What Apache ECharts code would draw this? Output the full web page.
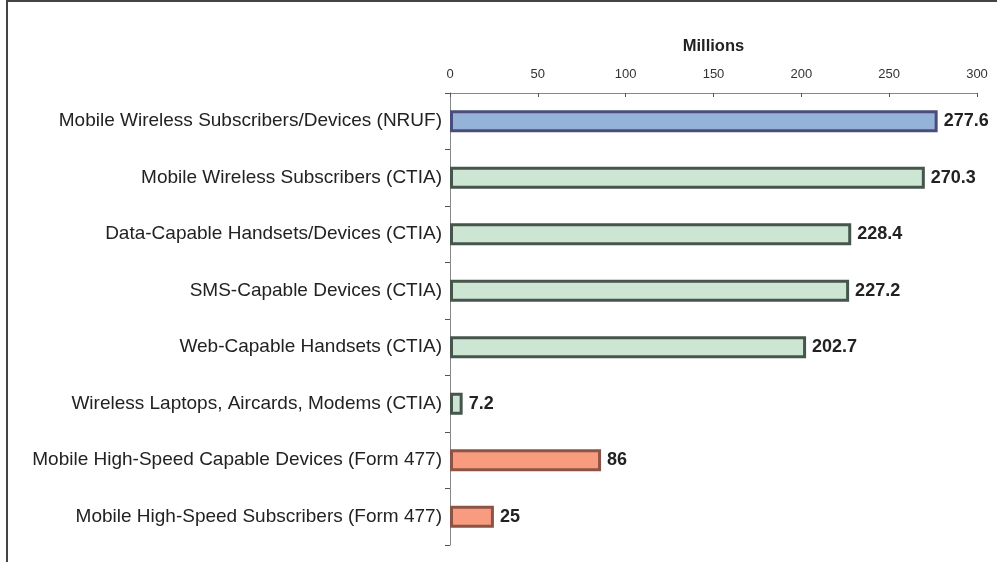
<!DOCTYPE html>
<html>
<head>
<meta charset="utf-8">
<script src="https://cdn.jsdelivr.net/npm/echarts@6/dist/echarts.min.js"></script>
<style>
html,body{margin:0;padding:0;background:#fff;}
#chart{width:997px;height:562px;}
</style>
</head>
<body>
<div id="chart"></div>
<script>
const categories = [
  "Mobile Wireless Subscribers/Devices (NRUF)",
  "Mobile Wireless Subscribers (CTIA)",
  "Data-Capable Handsets/Devices (CTIA)",
  "SMS-Capable Devices (CTIA)",
  "Web-Capable Handsets (CTIA)",
  "Wireless Laptops, Aircards, Modems (CTIA)",
  "Mobile High-Speed Capable Devices (Form 477)",
  "Mobile High-Speed Subscribers (Form 477)"
];
const values = [277.6, 270.3, 228.4, 227.2, 202.7, 7.2, 86, 25];
const sources = ["NRUF", "CTIA", "CTIA", "CTIA", "CTIA", "CTIA", "Form 477", "Form 477"];
const xTicks = [0, 50, 100, 150, 200, 250, 300];

const styleBySource = {
  "NRUF": {color: "#95B3D7", borderColor: "#4B4C7E"},
  "CTIA": {color: "#CDE6D4", borderColor: "#46564C"},
  "Form 477": {color: "#F99B7E", borderColor: "#8C5447"}
};

const chart = echarts.init(document.getElementById('chart'));
chart.setOption({
  animation: false,
  backgroundColor: '#fff',
  graphic: [{
    type: 'rect',
    shape: {x: 7, y: 1, width: 1100, height: 700},
    style: {fill: 'none', stroke: '#444', lineWidth: 2},
    silent: true
  }],
  grid: {left: 450, right: 20, top: 93, bottom: 17, containLabel: false},
  xAxis: {
    type: 'value',
    position: 'top',
    min: xTicks[0],
    max: xTicks[xTicks.length - 1],
    interval: xTicks[1] - xTicks[0],
    name: 'Millions',
    nameLocation: 'middle',
    nameGap: 38,
    nameTextStyle: {fontFamily: 'Liberation Sans', fontWeight: 'bold', fontSize: 16.5, color: '#222'},
    axisLine: {show: true, lineStyle: {color: '#888', width: 1}},
    axisTick: {show: true, inside: true, length: 4, lineStyle: {color: '#555'}},
    axisLabel: {fontFamily: 'Liberation Sans', fontSize: 13, color: '#333', margin: 12},
    splitLine: {show: false}
  },
  yAxis: {
    type: 'category',
    inverse: true,
    data: categories,
    axisLine: {show: true, lineStyle: {color: '#888', width: 1}},
    axisTick: {show: true, length: 5, lineStyle: {color: '#555'}},
    axisLabel: {fontFamily: 'Liberation Sans', fontSize: 19, color: '#222', margin: 8}
  },
  series: [{
    type: 'bar',
    barWidth: 22,
    data: values.map((v, i) => ({
      value: v,
      itemStyle: Object.assign({borderWidth: 3}, styleBySource[sources[i]])
    })),
    label: {
      show: true,
      position: 'right',
      distance: 6,
      fontFamily: 'Liberation Sans',
      fontWeight: 'bold',
      fontSize: 18,
      color: '#222'
    }
  }]
});
</script>
</body>
</html>
